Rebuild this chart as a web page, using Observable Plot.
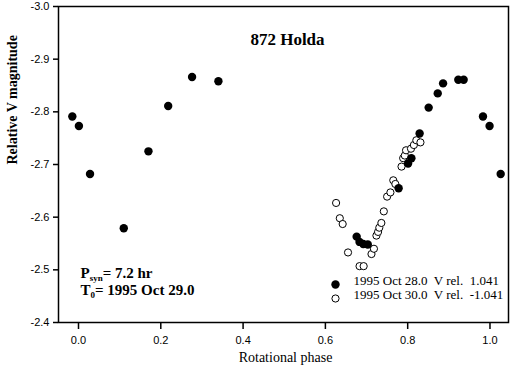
<!DOCTYPE html>
<html>
<head>
<meta charset="utf-8">
<script src="https://cdn.jsdelivr.net/npm/d3@7"></script>
<script src="https://cdn.jsdelivr.net/npm/@observablehq/plot@0.6"></script>
<style>
  html, body { margin: 0; padding: 0; background: #fff; }
  #chart svg { display: block; background: #fff; }
</style>
</head>
<body>
<div id="chart"></div>
<script>
// Oct 28.0 session (filled)
const oct28Phase = [-0.015, 0.001, 0.028, 0.110, 0.170, 0.218, 0.276, 0.340,
  0.676, 0.683, 0.692, 0.703, 0.778, 0.801, 0.809, 0.829, 0.851, 0.873, 0.886,
  0.923, 0.936, 0.983, 0.999, 1.026];
const oct28Mag = [-2.791, -2.773, -2.682, -2.579, -2.725, -2.811, -2.866, -2.858,
  -2.563, -2.553, -2.549, -2.548, -2.655, -2.702, -2.712, -2.759, -2.808, -2.835, -2.854,
  -2.861, -2.861, -2.791, -2.773, -2.682];
// Oct 30.0 session (open)
const oct30Phase = [0.626, 0.635, 0.642, 0.655, 0.683, 0.693, 0.712, 0.718, 0.724,
  0.728, 0.731, 0.736, 0.742, 0.750, 0.758, 0.765, 0.770, 0.785, 0.789, 0.793, 0.796,
  0.808, 0.815, 0.821, 0.831];
const oct30Mag = [-2.627, -2.598, -2.587, -2.533, -2.507, -2.507, -2.530, -2.540, -2.565,
  -2.572, -2.580, -2.589, -2.611, -2.639, -2.647, -2.670, -2.663, -2.696, -2.712, -2.717, -2.727,
  -2.730, -2.737, -2.746, -2.742];

const xTicks = [0, 0.2, 0.4, 0.6, 0.8, 1.0];
const yTicks = [-3.0, -2.9, -2.8, -2.7, -2.6, -2.5, -2.4];
const titleText = "872 Holda";
const xLabel = "Rotational phase";
const yLabel = "Relative V magnitude";
const legendLabels = ["1995 Oct 28.0  V rel.  1.041", "1995 Oct 30.0  V rel.  -1.041"];
const noteLines = ["P_syn= 7.2 hr", "T_0= 1995 Oct 29.0"];

const filled = oct28Phase.map((p, i) => ({phase: p, mag: oct28Mag[i]}));
const open = oct30Phase.map((p, i) => ({phase: p, mag: oct30Mag[i]}));

const serif = "'Liberation Serif', 'Times New Roman', serif";
const sans = "'Liberation Sans', Arial, sans-serif";

const plot = Plot.plot({
  width: 510,
  height: 370,
  marginLeft: 58,
  marginRight: 2,
  marginTop: 6,
  marginBottom: 48,
  style: {background: "#fff", color: "#000"},
  x: {domain: [-0.0486, 1.045]},
  y: {domain: [-3.0, -2.4], reverse: true},
  marks: [
    Plot.frame({stroke: "#000", strokeWidth: 1.5}),
    Plot.axisX(xTicks, {tickFormat: d => d.toFixed(1), tickSize: 7, tickPadding: 7,
      fontSize: 11, fontFamily: sans, strokeWidth: 1.5, label: null}),
    Plot.axisY(yTicks, {tickFormat: d => d.toFixed(1), tickSize: 5, tickPadding: 4,
      fontSize: 11, fontFamily: sans, strokeWidth: 1.5, label: null}),
    Plot.dot(open, {x: "phase", y: "mag", r: 3.6, fill: "#fff", stroke: "#000", strokeWidth: 1}),
    Plot.dot(filled, {x: "phase", y: "mag", r: 4.2, fill: "#000", stroke: "none"}),
    Plot.text([titleText], {frameAnchor: "top", dx: 4, dy: 26, fontSize: 17, fontWeight: "bold", fontFamily: serif}),
    Plot.text([xLabel], {frameAnchor: "bottom", dx: 2, dy: 39, fontSize: 14, fontFamily: serif}),
    Plot.text([yLabel], {frameAnchor: "left", dx: -46, rotate: -90, fontSize: 14, fontWeight: "bold", fontFamily: serif}),
    Plot.text([noteLines[0]], {frameAnchor: "bottom-left", dx: 22, dy: -45, textAnchor: "start", fontSize: 15, fontWeight: "bold", fontFamily: serif}),
    Plot.text([noteLines[1]], {frameAnchor: "bottom-left", dx: 22, dy: -28, textAnchor: "start", fontSize: 15, fontWeight: "bold", fontFamily: serif}),
    Plot.dot([legendLabels[0]], {frameAnchor: "bottom-left", dx: 277, dy: -38, r: 4.2, fill: "#000", stroke: "none"}),
    Plot.dot([legendLabels[1]], {frameAnchor: "bottom-left", dx: 277, dy: -24, r: 3.6, fill: "#fff", stroke: "#000", strokeWidth: 1}),
    Plot.text([legendLabels[0]], {frameAnchor: "bottom-left", dx: 295, dy: -38, textAnchor: "start", fontSize: 13, fontFamily: serif}),
    Plot.text([legendLabels[1]], {frameAnchor: "bottom-left", dx: 295, dy: -24, textAnchor: "start", fontSize: 13, fontFamily: serif})
  ]
});

document.getElementById("chart").appendChild(plot);

// preserve multiple spaces, build subscripts
d3.select(plot).selectAll("text").each(function() {
  const t = d3.select(this);
  t.attr("xml:space", "preserve").style("white-space", "pre");
  const s = this.textContent;
  const m = s.match(/^(\w)_(\w+)(.*)$/);
  if (m && this.childElementCount === 0) {
    t.text(null);
    t.append("tspan").text(m[1]);
    t.append("tspan").attr("dy", 3).attr("font-size", 9).text(m[2]);
    t.append("tspan").attr("dy", -3).text(m[3]);
  }
});
</script>
</body>
</html>
